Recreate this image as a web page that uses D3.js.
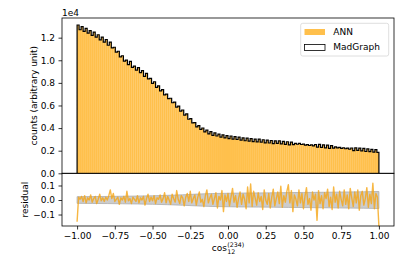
<!DOCTYPE html>
<html><head><meta charset="utf-8">
<script src="https://cdn.jsdelivr.net/npm/d3@7"></script>
<style>
html,body{margin:0;padding:0;background:#fff;}
text{font-family:"DejaVu Sans",sans-serif;fill:#000;}
</style></head>
<body><svg id="chart" width="415" height="260"></svg>
<script>
// ---- data ----
const nBins = 150;
const binEdges = d3.range(nBins + 1).map(i => -1 + i * 2 / nBins);
const madgraphCounts = [
1.312,1.270,1.298,1.255,1.283,1.240,1.262,1.220,1.249,1.205,
1.226,1.180,1.205,1.160,1.184,1.133,1.160,1.110,1.115,1.072,
1.080,1.030,1.040,0.993,1.001,0.962,0.990,0.938,0.948,0.912,
0.935,0.890,0.908,0.858,0.884,0.836,0.840,0.796,0.810,0.760,
0.773,0.730,0.740,0.693,0.700,0.660,0.664,0.624,0.630,0.585,
0.594,0.550,0.560,0.514,0.526,0.478,0.484,0.446,0.449,0.411,
0.422,0.388,0.401,0.366,0.382,0.349,0.368,0.336,0.357,0.330,
0.347,0.320,0.340,0.313,0.334,0.307,0.330,0.303,0.324,0.299,
0.320,0.293,0.314,0.288,0.311,0.285,0.307,0.281,0.303,0.278,
0.302,0.275,0.297,0.270,0.294,0.268,0.290,0.263,0.287,0.265,
0.287,0.260,0.283,0.256,0.279,0.251,0.276,0.254,0.265,0.257,
0.264,0.255,0.259,0.250,0.254,0.246,0.251,0.243,0.255,0.232,
0.256,0.230,0.252,0.225,0.249,0.221,0.244,0.223,0.234,0.225,
0.230,0.221,0.226,0.217,0.222,0.213,0.224,0.201,0.225,0.203,
0.223,0.198,0.220,0.193,0.216,0.191,0.212,0.188,0.209,0.185];
const annCounts = madgraphCounts;
const bandX = [-1,-0.9,-0.8,-0.7,-0.6,-0.5,-0.4,-0.3,-0.2,-0.1,0,0.1,0.2,0.3,0.4,0.5,0.6,0.7,0.8,0.9,1.0];
const bandHalf = [0.023,0.0237,0.0245,0.026,0.0273,0.0293,0.0323,0.036,0.041,0.0447,0.0464,0.048,0.0487,0.0495,0.051,0.052,0.053,0.054,0.0555,0.0566,0.0587];
const residualX = d3.range(201).map(i => -1 + i * 0.01);
const residual = [
-0.150,0.020,0.005,0.025,-0.010,0.030,-0.020,0.015,0.000,0.035,-0.015,0.010,0.025,-0.025,0.005,0.040,-0.005,0.015,-0.010,0.020,
0.000,0.030,0.070,0.010,0.045,-0.010,0.005,0.020,-0.030,0.015,0.000,0.025,-0.015,0.060,-0.005,0.010,-0.025,0.020,0.005,-0.010,
0.030,-0.020,0.015,0.000,0.025,-0.035,0.010,0.040,-0.010,0.020,-0.005,0.030,-0.025,0.015,0.005,0.035,-0.015,0.010,0.050,-0.020,
0.025,0.000,-0.030,0.040,0.010,-0.015,0.065,0.005,-0.025,0.030,0.015,-0.040,0.020,0.045,-0.010,0.060,-0.020,0.010,0.035,-0.035,
0.020,0.055,-0.015,0.005,-0.045,0.030,0.070,-0.020,0.015,0.040,-0.030,0.010,0.050,-0.055,0.025,0.000,0.065,-0.080,0.035,-0.010,
0.045,-0.040,0.020,0.080,-0.015,0.030,-0.050,0.010,0.055,-0.030,0.040,0.005,-0.060,0.090,-0.020,0.110,-0.045,0.060,0.015,-0.035,
0.050,-0.010,0.025,-0.065,0.070,0.000,-0.030,0.045,-0.055,0.020,0.075,-0.040,0.010,0.055,-0.025,0.095,-0.050,0.030,-0.015,0.060,
0.105,-0.020,0.065,-0.080,0.035,0.005,-0.040,0.070,-0.020,0.045,-0.060,0.025,0.085,-0.030,0.010,-0.070,0.055,0.000,0.040,-0.140,
0.065,-0.025,0.030,-0.060,0.050,0.010,0.075,-0.045,0.020,-0.065,0.090,-0.015,0.040,-0.055,0.060,0.005,-0.040,0.070,-0.030,0.035,
-0.060,0.080,0.015,-0.045,0.055,-0.020,0.070,-0.070,0.030,0.060,-0.035,0.010,0.085,-0.050,0.040,-0.025,0.115,-0.060,0.045,0.020,
-0.180];
const xTicks = [-1.00,-0.75,-0.50,-0.25,0.00,0.25,0.50,0.75,1.00];
const yTicksMain = [0.0,0.2,0.4,0.6,0.8,1.0,1.2];
const yTicksRes = [-0.1,0.0,0.1];

// ---- layout ----
const L = 62, R = 394, T = 18, MB = 173.3, RB = 226;
const svg = d3.select("#chart");
const x = d3.scaleLinear().domain([-1.1, 1.1]).range([L, R]);
const y = d3.scaleLinear().domain([0, 1.374]).range([MB, T]);
const yr = d3.scaleLinear().domain([-0.179, 0.184]).range([RB, MB]);
const fmtMinus = s => s.replace("-", "\u2212");

// main histogram bars (ANN)
svg.append("g").selectAll("rect").data(annCounts).join("rect")
  .attr("x", (d, i) => x(binEdges[i]))
  .attr("width", (d, i) => x(binEdges[i + 1]) - x(binEdges[i]))
  .attr("y", d => y(d))
  .attr("height", d => y(0) - y(d))
  .attr("fill", "rgb(255,165,0)").attr("fill-opacity", 0.7);

// MadGraph step outline
const stepPts = [[binEdges[0], 0]];
madgraphCounts.forEach((v, i) => { stepPts.push([binEdges[i], v]); stepPts.push([binEdges[i + 1], v]); });
stepPts.push([binEdges[nBins], 0]);
svg.append("path")
  .attr("d", d3.line().x(d => x(d[0])).y(d => y(d[1]))(stepPts))
  .attr("fill", "none").attr("stroke", "#000").attr("stroke-width", 1.2);

// residual band
const bandData = bandX.map((v, i) => ({ x: v, h: bandHalf[i] }));
svg.append("path")
  .attr("d", d3.area().x(d => x(d.x)).y0(d => yr(-d.h)).y1(d => yr(d.h))(bandData))
  .attr("fill", "#cccccc").attr("stroke", "#adadad").attr("stroke-width", 0.8);

// residual line
svg.append("path")
  .attr("d", d3.line().x((d, i) => x(residualX[i])).y(d => yr(d))(residual))
  .attr("fill", "none").attr("stroke", "rgb(245,165,20)").attr("stroke-opacity", 0.8)
  .attr("stroke-width", 1.4).attr("stroke-linejoin", "round");

// frames
svg.append("rect").attr("x", L).attr("y", T).attr("width", R - L).attr("height", MB - T)
  .attr("fill", "none").attr("stroke", "#000").attr("stroke-width", 0.8);
svg.append("rect").attr("x", L).attr("y", MB).attr("width", R - L).attr("height", RB - MB)
  .attr("fill", "none").attr("stroke", "#000").attr("stroke-width", 0.8);

// axes
function styleAxis(g) {
  g.select(".domain").remove();
  g.selectAll(".tick line").attr("stroke", "#000").attr("stroke-width", 0.8);
  g.selectAll(".tick text").attr("font-size", "9px").attr("font-family", "DejaVu Sans").attr("fill", "#000");
}
svg.append("g").attr("transform", `translate(0,${RB})`)
  .call(d3.axisBottom(x).tickValues(xTicks).tickSize(3.5).tickPadding(3.5).tickFormat(d => fmtMinus(d3.format(".2f")(d))))
  .call(styleAxis);
svg.append("g").attr("transform", `translate(${L},0)`)
  .call(d3.axisLeft(y).tickValues(yTicksMain).tickSize(3.5).tickPadding(3.5).tickFormat(d3.format(".1f")))
  .call(styleAxis);
svg.append("g").attr("transform", `translate(${L},0)`)
  .call(d3.axisLeft(yr).tickValues(yTicksRes).tickSize(3.5).tickPadding(3.5).tickFormat(d => fmtMinus(d3.format(".1f")(d))))
  .call(styleAxis);

// offset text
svg.append("text").attr("x", L).attr("y", 15.5).attr("font-size", "9px").text("1e4");

// y labels
svg.append("text").attr("transform", `translate(36.5,${(T + MB) / 2}) rotate(-90)`)
  .attr("text-anchor", "middle").attr("font-size", "9px").text("counts (arbitrary unit)");
svg.append("text").attr("transform", `translate(28,${(MB + RB) / 2}) rotate(-90)`)
  .attr("text-anchor", "middle").attr("font-size", "9px").text("residual");

// x label: cos_12^(234)
const xl = svg.append("g");
const cosT = xl.append("text").attr("x", 0).attr("y", 251).attr("font-size", "9px").text("cos");
const cw = cosT.node().getComputedTextLength() + 0.5;
const supT = xl.append("text").attr("x", cw).attr("y", 246.5).attr("font-size", "6.3px").text("(234)");
xl.append("text").attr("x", cw).attr("y", 254).attr("font-size", "6.3px").text("12");
const totalW = cw + supT.node().getComputedTextLength();
xl.attr("transform", `translate(${x(0) - totalW / 2},0)`);

// legend
const lg = svg.append("g");
lg.append("rect").attr("x", 300.7).attr("y", 23.3).attr("width", 88).attr("height", 32.7)
  .attr("rx", 2).attr("fill", "#fff").attr("fill-opacity", 0.8).attr("stroke", "#d5d5d5").attr("stroke-width", 0.8);
lg.append("rect").attr("x", 304.5).attr("y", 29).attr("width", 20.5).attr("height", 6)
  .attr("fill", "rgb(255,165,0)").attr("fill-opacity", 0.7);
lg.append("text").attr("x", 333.3).attr("y", 34.7).attr("font-size", "9px").text("ANN");
lg.append("rect").attr("x", 304.5).attr("y", 44.5).attr("width", 20.5).attr("height", 6)
  .attr("fill", "none").attr("stroke", "#000").attr("stroke-width", 0.8);
lg.append("text").attr("x", 333.3).attr("y", 50).attr("font-size", "9px").text("MadGraph");
</script></body></html>
